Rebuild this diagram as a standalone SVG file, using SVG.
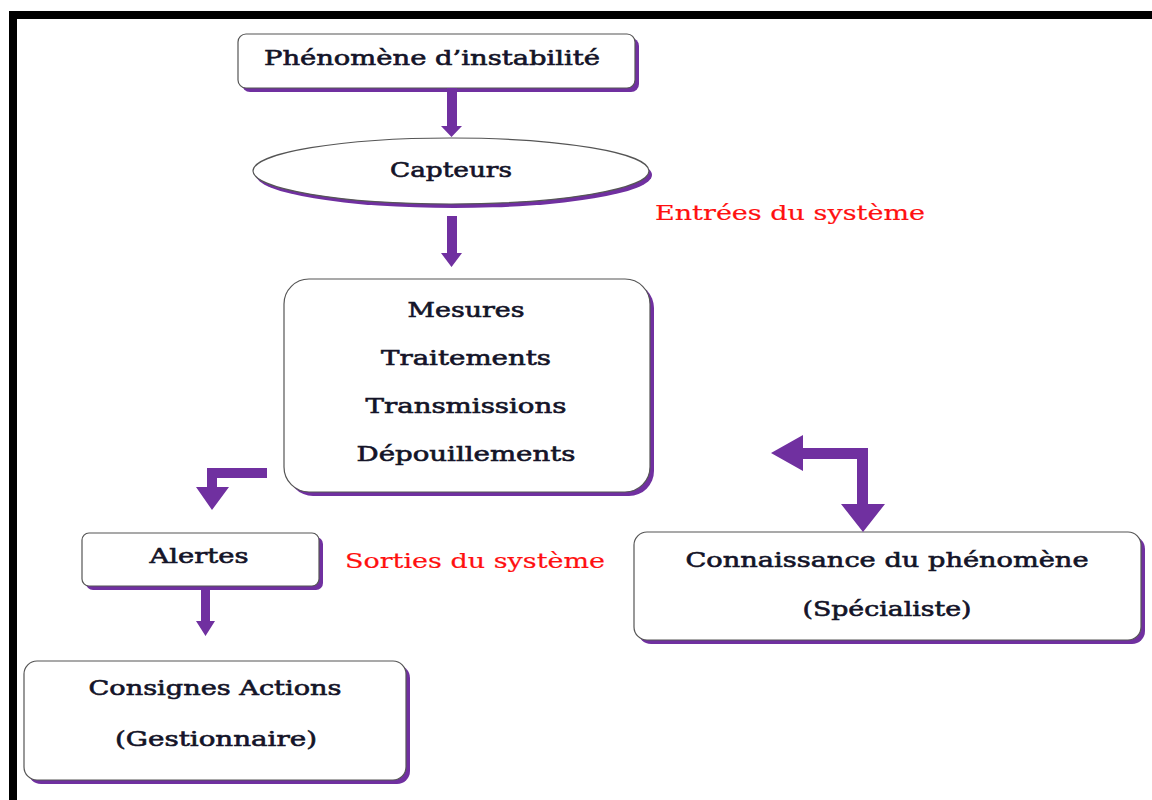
<svg xmlns="http://www.w3.org/2000/svg" width="1152" height="800" viewBox="0 0 1152 800">
<defs>
<style>
.sh{fill:#7030A0}
.bx{fill:#fff;stroke:#555;stroke-width:1.2}
.t{font-family:"DejaVu Serif","Liberation Serif",serif;font-size:20.5px;font-weight:normal;fill:#141428;stroke:#141428;stroke-width:0.6;text-anchor:middle}
.r{font-family:"DejaVu Serif","Liberation Serif",serif;font-size:20.5px;fill:#ff1010;stroke:#ff1010;stroke-width:0.2}
.ar{fill:#7030A0}
</style>
</defs>
<rect width="1152" height="800" fill="#fff"/>
<path d="M13 800 V15 H1152" fill="none" stroke="#000" stroke-width="8"/>

<g id="n-phenomene">
<rect class="sh" x="242" y="38" width="397" height="54" rx="8"/>
<rect class="bx" x="238" y="34" width="397" height="54" rx="8"/>
<text class="t" x="432" y="65" textLength="336" lengthAdjust="spacingAndGlyphs">Phénomène d’instabilité</text>
</g>

<g id="n-capteurs">
<ellipse class="sh" cx="454" cy="175" rx="198" ry="33"/>
<ellipse class="bx" cx="451" cy="171" rx="198" ry="33"/>
<text class="t" x="451" y="177" textLength="122" lengthAdjust="spacingAndGlyphs">Capteurs</text>
</g>

<g id="n-entrees">
<text class="r" x="655" y="220" textLength="270" lengthAdjust="spacingAndGlyphs">Entrées du système</text>
</g>

<g id="n-traitement">
<rect class="sh" x="288" y="283" width="366" height="213" rx="25"/>
<rect class="bx" x="284" y="279" width="366" height="213" rx="25"/>
<text class="t" x="466" y="317" textLength="117" lengthAdjust="spacingAndGlyphs">Mesures</text>
<text class="t" x="466" y="365" textLength="170" lengthAdjust="spacingAndGlyphs">Traitements</text>
<text class="t" x="466" y="413" textLength="201" lengthAdjust="spacingAndGlyphs">Transmissions</text>
<text class="t" x="466" y="461" textLength="219" lengthAdjust="spacingAndGlyphs">Dépouillements</text>
</g>

<g id="n-alertes">
<rect class="sh" x="86" y="537" width="237" height="53" rx="7"/>
<rect class="bx" x="82" y="533" width="237" height="53" rx="7"/>
<text class="t" x="199" y="563" textLength="99" lengthAdjust="spacingAndGlyphs">Alertes</text>
</g>

<g id="n-sorties">
<text class="r" x="345" y="568" textLength="260" lengthAdjust="spacingAndGlyphs">Sorties du système</text>
</g>

<g id="n-consignes">
<rect class="sh" x="28" y="665" width="382" height="119" rx="13"/>
<rect class="bx" x="24" y="661" width="382" height="119" rx="13"/>
<text class="t" x="215" y="695" textLength="253" lengthAdjust="spacingAndGlyphs">Consignes Actions</text>
<text class="t" x="216" y="746" textLength="202" lengthAdjust="spacingAndGlyphs">(Gestionnaire)</text>
</g>

<g id="n-connaissance">
<rect class="sh" x="638" y="536" width="507" height="108" rx="13"/>
<rect class="bx" x="634" y="532" width="507" height="108" rx="13"/>
<text class="t" x="887" y="567" textLength="403" lengthAdjust="spacingAndGlyphs">Connaissance du phénomène</text>
<text class="t" x="887" y="616" textLength="169" lengthAdjust="spacingAndGlyphs">(Spécialiste)</text>
</g>

<g id="connectors">
<polygon class="ar" points="447,88 457,88 457,126 462,126 451.5,137 441,126 447,126"/>
<polygon class="ar" points="447,216 457,216 457,253 462,253 451.5,267 441,253 447,253"/>
<polygon class="ar" points="267,468 267,478 217,478 217,487 229,487 212,510 196,487 207,487 207,468"/>
<polygon class="ar" points="201,588 210,588 210,621 215,621 205.5,636 196,621 201,621"/>
<polygon class="ar" points="771,453 803,435 803,448 868,448 868,504 885,504 863,532 841,504 857,504 857,459 803,459 803,471"/>
</g>
</svg>
